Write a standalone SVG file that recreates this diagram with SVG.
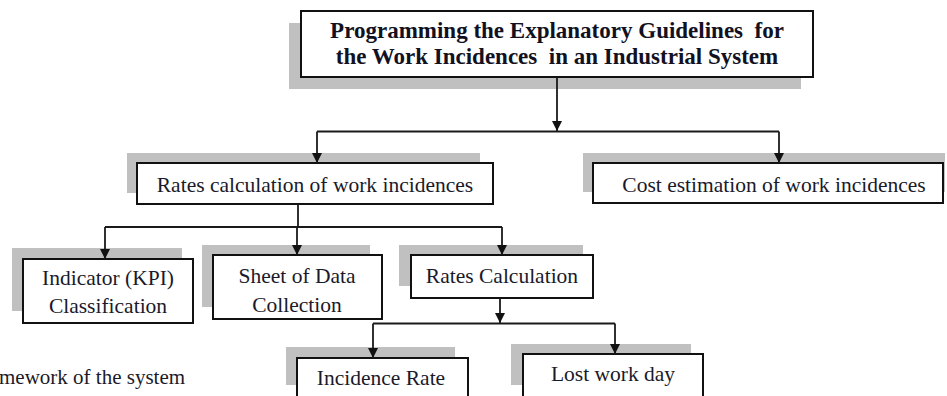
<svg xmlns="http://www.w3.org/2000/svg" width="947" height="396" viewBox="0 0 947 396">
  <style>
    .shadow { fill: #c0c0c0; }
    .box { fill: #ffffff; stroke: #111111; stroke-width: 2; }
    text { font-family: 'Liberation Serif', 'DejaVu Serif', serif; }
    .label { font-size: 21.5px; fill: #1a1a2a; text-anchor: middle; }
    .title { font-size: 23px; font-weight: bold; fill: #111122; text-anchor: middle; white-space: pre; }
    .caption { font-size: 21px; fill: #1a1a2a; }
    .wire { fill: none; stroke: #1a1a1a; stroke-width: 1.8; }
  </style>
  <defs>
    <marker id="arrow" markerUnits="userSpaceOnUse" markerWidth="10" markerHeight="11" refX="10" refY="5" orient="auto">
      <path d="M0,0 L10,5 L0,10 z" fill="#111111"/>
    </marker>
  </defs>

  <rect width="947" height="396" fill="#ffffff"/>

  <!-- top heading -->
  <g id="title">
    <rect class="shadow" x="289" y="23" width="512" height="66"/>
    <rect class="box" x="301" y="11" width="512" height="66"/>
    <text class="title" x="557" y="37.5" xml:space="preserve">Programming the Explanatory Guidelines  for</text>
    <text class="title" x="557" y="63.5" xml:space="preserve">the Work Incidences  in an Industrial System</text>
  </g>

  <!-- second level -->
  <g id="rates">
    <rect class="shadow" x="127" y="153" width="353" height="40"/>
    <rect class="box" x="137" y="163" width="356" height="41"/>
    <text class="label" x="315" y="191.5">Rates calculation of work incidences</text>
  </g>
  <g id="cost">
    <rect class="shadow" x="583" y="153" width="362" height="39"/>
    <rect class="box" x="593" y="163" width="350" height="40"/>
    <text class="label" x="774" y="191.5">Cost estimation of work incidences</text>
  </g>

  <!-- third level -->
  <g id="indicator">
    <rect class="shadow" x="12" y="248" width="170" height="63"/>
    <rect class="box" x="23" y="259" width="170" height="64"/>
    <text class="label" x="108" y="285">Indicator (KPI)</text>
    <text class="label" x="108" y="313">Classification</text>
  </g>
  <g id="sheet">
    <rect class="shadow" x="202" y="245" width="168" height="62"/>
    <rect class="box" x="213" y="255" width="169" height="64"/>
    <text class="label" x="297" y="283">Sheet of Data</text>
    <text class="label" x="297" y="311.5">Collection</text>
  </g>
  <g id="rates-calc">
    <rect class="shadow" x="399" y="245" width="184" height="41"/>
    <rect class="box" x="411" y="255" width="182" height="43"/>
    <text class="label" x="502" y="283">Rates Calculation</text>
  </g>

  <!-- fourth level -->
  <g id="incidence-rate">
    <rect class="shadow" x="286" y="347" width="169" height="38"/>
    <rect class="box" x="297" y="358" width="171" height="44"/>
    <text class="label" x="381" y="385">Incidence Rate</text>
  </g>
  <g id="lost-work-day">
    <rect class="shadow" x="511" y="344" width="180" height="41"/>
    <rect class="box" x="523" y="354" width="180" height="48"/>
    <text class="label" x="613" y="381">Lost work day</text>
  </g>

  <text class="caption" x="-1" y="384">mework of the system</text>

  <!-- connectors -->
  <g id="connectors">
    <path class="wire" d="M557,77 V131" marker-end="url(#arrow)"/>
    <path class="wire" d="M317,131.5 H779"/>
    <path class="wire" d="M317,131.5 V163" marker-end="url(#arrow)"/>
    <path class="wire" d="M779,131.5 V163" marker-end="url(#arrow)"/>

    <path class="wire" d="M298,204 V227"/>
    <path class="wire" d="M105,227 H502"/>
    <path class="wire" d="M105,227 V259" marker-end="url(#arrow)"/>
    <path class="wire" d="M297,227 V255" marker-end="url(#arrow)"/>
    <path class="wire" d="M502,227 V255" marker-end="url(#arrow)"/>

    <path class="wire" d="M500,298 V323" marker-end="url(#arrow)"/>
    <path class="wire" d="M373,323.5 H615"/>
    <path class="wire" d="M373,323.5 V358" marker-end="url(#arrow)"/>
    <path class="wire" d="M615,323.5 V354" marker-end="url(#arrow)"/>
  </g>
</svg>
